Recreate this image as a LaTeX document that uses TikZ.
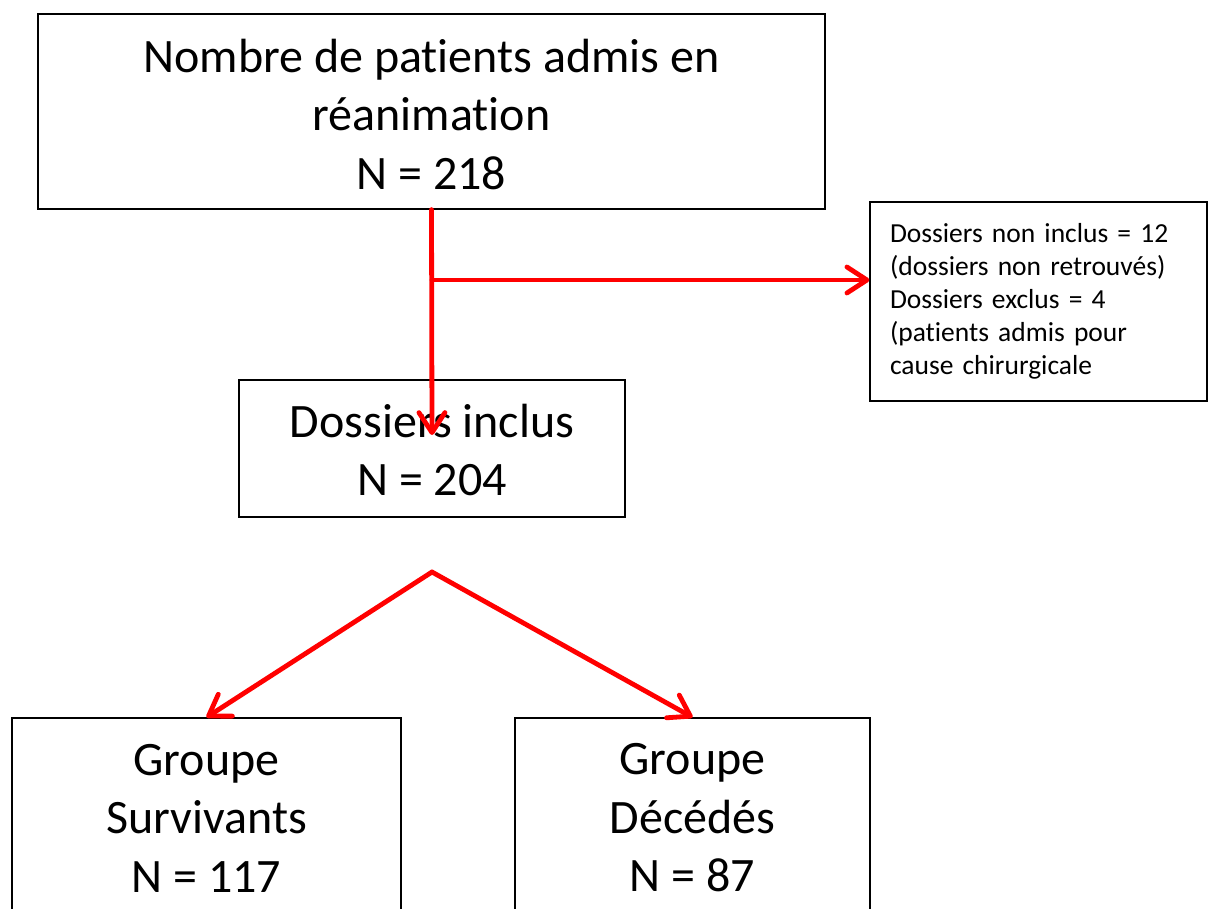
\documentclass[tikz,border=0pt]{standalone}
\usepackage{fontspec}
\setmainfont{Carlito}[RawFeature={-liga;-clig;-dlig;-calt}]
\usetikzlibrary{arrows.meta}
\begin{document}
\begin{tikzpicture}[x=1pt,y=-1pt,
  box/.style={draw=black,line width=1.3pt,inner sep=0pt,align=center,
    font=\fontsize{48}{58.5}\selectfont},
  label/.style={inner sep=0pt,align=center,font=\fontsize{48}{58.5}\selectfont},
  smallbox/.style={draw=black,line width=1.3pt,inner sep=0pt,align=left,
    font=\fontsize{27.5}{33}\selectfont},
  flow/.style={draw=red,line width=4.8pt,line cap=round,
    -{Straight Barb[length=20pt,width=26pt,line width=4.8pt,round]}}]
\useasboundingbox (0,0) rectangle (1208,909);
\node[box,minimum width=787pt,minimum height=195pt] (top) at (431.5,111.5) {};
\node[label] (toptext) at (431.5,114.5)
  {Nombre de patients admis en\\r\'eanimation\\N = 218};
\node[box,minimum width=386pt,minimum height=137pt] (mid) at (432,448.5) {};
\node[label] (midtext) at (432,450)
  {Dossiers inclus\\N = 204};
\node[smallbox,minimum width=337pt,minimum height=199pt,text width=297pt] (excl) at (1038.5,301.5)
  {Dossiers non inclus = 12\\(dossiers non retrouv\'es)\\Dossiers exclus = 4\\(patients admis pour\\cause chirurgicale};
\node[box,minimum width=389pt,minimum height=200pt] (bl) at (206.5,818)
  {Groupe\\Survivants\\N = 117};
\node[box,minimum width=355pt,minimum height=200pt] (br) at (692.5,818)
  {Groupe\\D\'ec\'ed\'es\\N = 87};
\coordinate (tip) at (432,435);
\coordinate (branch) at (432,280);
\coordinate (fork) at (432,572);
\draw[flow] (top.south) -- (tip);
\draw[flow] (branch) -- (excl.west |- branch);
\draw[flow] (fork) -- (bl.north);
\draw[flow] (fork) -- (br.north);
\end{tikzpicture}
\end{document}
